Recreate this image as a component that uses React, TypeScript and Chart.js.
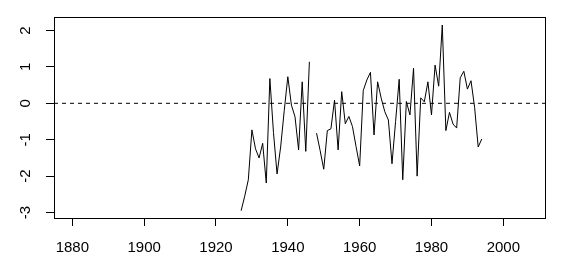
import { useEffect, useRef } from 'react';
import { Chart, registerables } from 'chart.js';

Chart.register(...registerables);

const years = [
  1927, 1928, 1929, 1930, 1931, 1932, 1933, 1934, 1935, 1936,
  1937, 1938, 1939, 1940, 1941, 1942, 1943, 1944, 1945, 1946,
  1947, 1948, 1949, 1950, 1951, 1952, 1953, 1954, 1955, 1956,
  1957, 1958, 1959, 1960, 1961, 1962, 1963, 1964, 1965, 1966,
  1967, 1968, 1969, 1970, 1971, 1972, 1973, 1974, 1975, 1976,
  1977, 1978, 1979, 1980, 1981, 1982, 1983, 1984, 1985, 1986,
  1987, 1988, 1989, 1990, 1991, 1992, 1993, 1994,
];

const values: (number | null)[] = [
  -2.95, -2.55, -2.1, -0.73, -1.25, -1.5, -1.1, -2.19, 0.68, -0.8,
  -1.94, -1.2, -0.2, 0.73, -0.05, -0.37, -1.28, 0.59, -1.32, 1.14,
  null, -0.82, -1.3, -1.81, -0.75, -0.7, 0.09, -1.28, 0.32, -0.56,
  -0.36, -0.64, -1.19, -1.72, 0.35, 0.64, 0.85, -0.87, 0.59, 0.14,
  -0.23, -0.46, -1.66, -0.5, 0.66, -2.1, 0.05, -0.32, 0.96, -2.0,
  0.15, 0.04, 0.59, -0.32, 1.05, 0.47, 2.15, -0.75, -0.25, -0.57,
  -0.68, 0.7, 0.88, 0.39, 0.62, -0.11, -1.2, -0.98,
];

const xTicks = [1880, 1900, 1920, 1940, 1960, 1980, 2000];
const yTicks = [-3, -2, -1, 0, 1, 2];
const referenceLevel = 0;

export default function App() {
  const ref = useRef<HTMLCanvasElement | null>(null);

  useEffect(() => {
    document.body.style.margin = '0';
    const canvas = ref.current;
    if (!canvas) return;

    const X_MIN = 1874.9;
    const X_MAX = 2011.6;
    const Y_MIN = -3.15;
    const Y_MAX = 2.37;
    const family = '"Liberation Sans", Arial, sans-serif';
    const fontSize = 15;

    const boxPlugin = {
      id: 'rbox',
      afterDraw(chart: any) {
        const { ctx, chartArea: a, scales } = chart;
        ctx.save();
        ctx.strokeStyle = '#000';
        ctx.lineWidth = 1;
        ctx.setLineDash([]);
        ctx.strokeRect(a.left + 0.5, a.top + 0.5, a.right - a.left, a.bottom - a.top);
        // rotated y tick labels (R style)
        ctx.fillStyle = '#000';
        ctx.font = `${fontSize}px ${family}`;
        ctx.textAlign = 'center';
        ctx.textBaseline = 'alphabetic';
        const ys = scales.y;
        for (const t of yTicks) {
          const py = ys.getPixelForValue(t);
          ctx.save();
          ctx.translate(29.5, py);
          ctx.rotate(-Math.PI / 2);
          ctx.fillText(String(t), 0, 0);
          ctx.restore();
        }
        ctx.restore();
      },
    };

    const chart = new Chart(canvas, {
      type: 'line',
      data: {
        datasets: [
          {
            data: years.map((yr, i) => ({ x: yr, y: values[i] })),
            borderColor: '#000',
            borderWidth: 1,
            pointRadius: 0,
            tension: 0,
            spanGaps: false,
            fill: false,
          },
          {
            data: [
              { x: X_MIN, y: referenceLevel },
              { x: X_MAX, y: referenceLevel },
            ],
            borderColor: '#000',
            borderWidth: 1,
            borderDash: [4, 4],
            pointRadius: 0,
            fill: false,
          },
        ],
      },
      options: {
        animation: false,
        responsive: false,
        layout: { padding: { top: 17, right: 20, left: 0, bottom: 0 } },
        plugins: {
          legend: { display: false },
          tooltip: { enabled: false },
        },
        scales: {
          x: {
            type: 'linear',
            min: X_MIN,
            max: X_MAX,
            afterBuildTicks: (s: any) => {
              s.ticks = xTicks.map((v) => ({ value: v }));
            },
            afterFit: (s: any) => {
              s.height = 54;
            },
            grid: {
              drawOnChartArea: false,
              drawTicks: true,
              tickLength: 8,
              color: '#000',
              lineWidth: 1,
            },
            border: { display: false },
            ticks: {
              autoSkip: false,
              maxRotation: 0,
              minRotation: 0,
              padding: 13,
              color: '#000',
              font: { family, size: fontSize },
              callback: (v: any) => String(v),
            },
          },
          y: {
            type: 'linear',
            min: Y_MIN,
            max: Y_MAX,
            afterBuildTicks: (s: any) => {
              s.ticks = yTicks.map((v) => ({ value: v }));
            },
            afterFit: (s: any) => {
              s.width = 54;
            },
            grid: {
              drawOnChartArea: false,
              drawTicks: true,
              tickLength: 8,
              color: '#000',
              lineWidth: 1,
            },
            border: { display: false },
            ticks: {
              display: false,
            },
          },
        },
      },
      plugins: [boxPlugin],
    });

    return () => chart.destroy();
  }, []);

  return (
    <div style={{ position: 'absolute', left: 0, top: 0, width: 565, height: 272, background: '#fff' }}>
      <canvas ref={ref} width={565} height={272} />
    </div>
  );
}
